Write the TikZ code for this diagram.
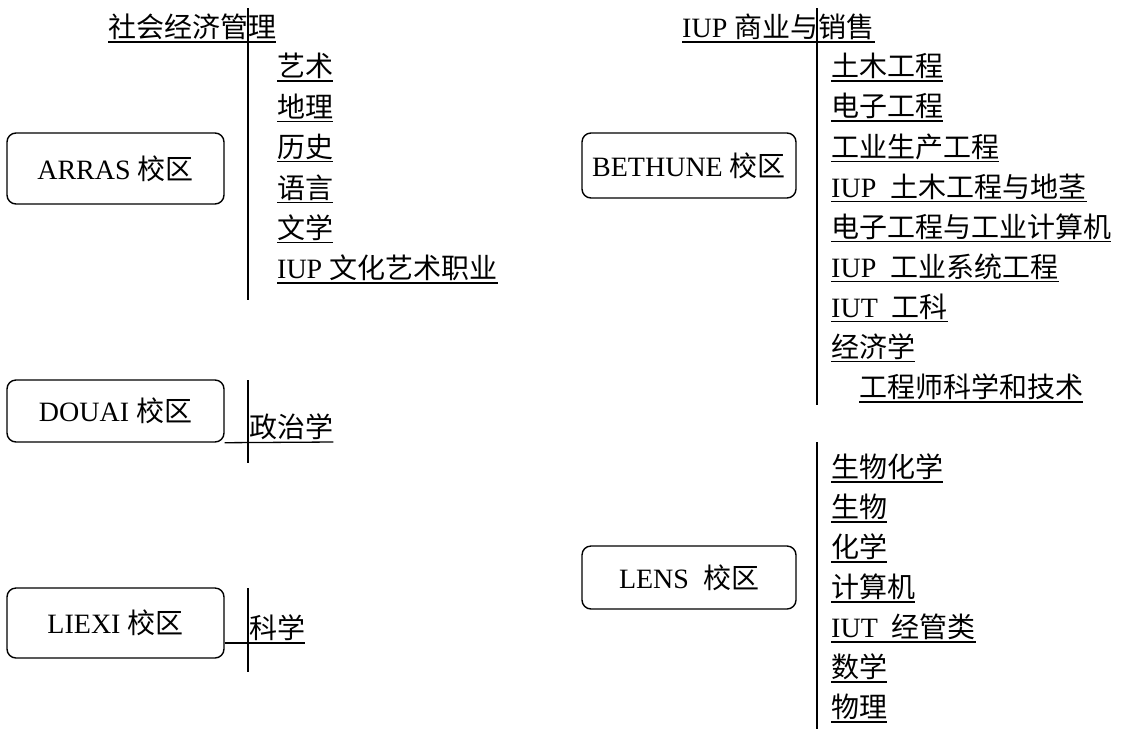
\documentclass[tikz,border=0pt]{standalone}
\usepackage{fontspec}
\setmainfont{Liberation Serif}
\newfontfamily\zhfont{Noto Sans CJK SC}
\newcommand{\zh}[1]{{\zhfont #1}}
\usetikzlibrary{positioning}

\begin{document}
\begin{tikzpicture}[x=1pt,y=-1pt,
    campus/.style={draw,line width=1.4pt,rounded corners=9pt,
                   minimum width=217pt,font=\fontsize{28}{34}\selectfont},
    course/.style={inner sep=0pt,anchor=south west,text height=22pt,
                   text depth=4pt,font=\fontsize{28}{34}\selectfont},
    uline/.style={line width=1.3pt},
    spine/.style={line width=1.7pt}]
  \useasboundingbox (0,0) rectangle (1147,729);
  %% Campus boxes
  \node[campus,minimum height=71pt] (arras) at (115.5,168.5) {ARRAS \zh{校区}};
  \node[campus,minimum height=62pt] (douai) at (115.5,411) {DOUAI \zh{校区}};
  \node[campus,minimum height=70pt] (liexi) at (115.5,623) {LIEXI \zh{校区}};
  \node[campus,minimum width=214pt,minimum height=65pt] (bethune) at (689,165.5) {BETHUNE \zh{校区}};
  \node[campus,minimum width=214pt,minimum height=63pt] (lens) at (689,577.5) {LENS\ \ \zh{校区}};
  %% Spines
  \coordinate (arrasTop) at (248,8);    \coordinate (arrasBot) at (248,300);
  \coordinate (douaiTop) at (248,380);  \coordinate (douaiBot) at (248,463);
  \coordinate (liexiTop) at (248,588);  \coordinate (liexiBot) at (248,672);
  \coordinate (bethTop) at (817,8);     \coordinate (bethBot) at (817,405);
  \coordinate (lensTop) at (817,442);   \coordinate (lensBot) at (817,729);
  \draw[spine] (arrasTop) -- (arrasBot);
  \draw[spine] (douaiTop) -- (douaiBot);
  \draw[spine] (liexiTop) -- (liexiBot);
  \draw[spine] (bethTop) -- (bethBot);
  \draw[spine] (lensTop) -- (lensBot);
  %% Heads
  \node[course] (arrasHead) at (108,42) {\zh{社会经济管理}};
  \node[course] (bethHead) at (682,42) {IUP \zh{商业与销售}};
  %% ARRAS courses
  \foreach \t [count=\i] in {\zh{艺术},\zh{地理},\zh{历史},\zh{语言},\zh{文学},IUP \zh{文化艺术职业}}
    \node[course] (a\i) at (277,{81+40.4*(\i-1)}) {\t};
  %% BETHUNE courses
  \foreach \t [count=\i] in {\zh{土木工程},\zh{电子工程},\zh{工业生产工程},IUP\ \ \zh{土木工程与地茎},
      \zh{电子工程与工业计算机},IUP\ \ \zh{工业系统工程},IUT\ \ \zh{工科},\zh{经济学}}
    \node[course] (b\i) at (831,{81+40.1*(\i-1)}) {\t};
  \node[course] (b9) at (859,402) {\zh{工程师科学和技术}};
  %% LENS courses
  \foreach \t [count=\i] in {\zh{生物化学},\zh{生物},\zh{化学},\zh{计算机},IUT\ \ \zh{经管类},\zh{数学},\zh{物理}}
    \node[course] (l\i) at (831,{482+40*(\i-1)}) {\t};
  %% DOUAI and LIEXI courses
  \node[course] (d1) at (249,442) {\zh{政治学}};
  \node[course] (x1) at (249,643) {\zh{科学}};
  %% Underlines
  \foreach \n in {arrasHead,bethHead,a1,a2,a3,a4,a5,a6,b1,b2,b3,b4,b5,b6,b7,b8,b9,l1,l2,l3,l4,l5,l6,l7}
    \draw[uline] (\n.south west) -- (\n.south east);
  \draw[uline] (douai.south east) -- (d1.south east);
  \draw[uline] (liexi.east |- x1.south west) -- (x1.south east);
\end{tikzpicture}
\end{document}
